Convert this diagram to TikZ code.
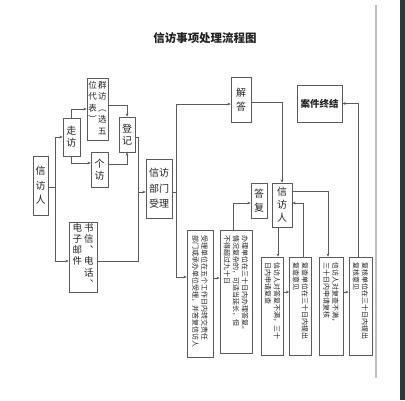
\documentclass[tikz,border=0pt]{standalone}
\usepackage{fontspec}
\setmainfont{Noto Sans CJK SC}
\usetikzlibrary{arrows.meta}
\definecolor{lnc}{RGB}{90,90,90}
\definecolor{txc}{RGB}{35,35,35}
\definecolor{band}{RGB}{45,58,58}
\tikzset{
 box/.style={draw=lnc, line width=0.7pt, inner sep=0pt, text=txc, align=center},
 arr/.style={draw=lnc, line width=0.7pt, -{Stealth[length=3.2pt,width=2.8pt]}},
 ln/.style={draw=lnc, line width=0.7pt},
 rt/.style={rotate=-90, font=\fontsize{7}{9}\selectfont, align=left, text=txc, inner sep=0pt},
 big/.style={font=\fontsize{10}{14}\selectfont},
}
\newcommand{\vc}[1]{\begin{tabular}[t]{@{}c@{}}#1\end{tabular}}
\begin{document}
\begin{tikzpicture}[x=1pt,y=-1pt]
\useasboundingbox (0,0) rectangle (405,400);
\fill[white] (0,0) rectangle (405,400);
\fill[band] (400,0) rectangle (405,400);
\draw[black!25, line width=1.5pt] (376,5) -- (376,378);

\node[font=\fontsize{11.5}{12}\selectfont\bfseries, text=txc] (title) at (205,38) {信访事项处理流程图};

% left part
\node[box, big, minimum width=15pt, minimum height=59pt, font=\fontsize{10}{14.5}\selectfont] (xfr) at (40.5,185.5) {信\\访\\人};
\node[box, minimum width=17pt, minimum height=38pt, font=\fontsize{10}{12}\selectfont] (zf) at (71.5,137) {走\\访};
\node[box, minimum width=21pt, minimum height=62pt, font=\fontsize{8.5}{11.5}\selectfont] (qf) at (97.5,109) {\vc{位\\代\\表\\︶}\hspace{1pt}\vc{群\\访\\︵\\选\\五}};
\node[box, minimum width=17pt, minimum height=35pt, font=\fontsize{10}{12}\selectfont] (gf) at (99.5,169.5) {个\\访};
\node[box, minimum width=16pt, minimum height=35pt, font=\fontsize{10}{12}\selectfont] (dj) at (127,134.5) {登\\记};
\node[box, minimum width=28pt, minimum height=70pt, font=\fontsize{9.5}{10.8}\selectfont] (sx) at (83,257) {\vc{电\\子\\邮\\件}\hspace{2pt}\vc{书\\信\\︑\\电\\话\\︑}};
\node[box, minimum width=26pt, minimum height=59pt, font=\fontsize{10}{15.5}\selectfont] (bm) at (159,188.5) {信访\\部门\\受理};

% upper right
\node[box, minimum width=20pt, minimum height=45pt, font=\fontsize{10}{14}\selectfont] (jd) at (241,99.5) {解\\答};
\node[box, minimum width=45pt, minimum height=37pt, font=\fontsize{9.5}{10}\selectfont\bfseries] (ajzj) at (319.5,103.5) {案件终结};
\node[box, minimum width=16pt, minimum height=35pt, font=\fontsize{10}{14}\selectfont] (df) at (259,200.5) {答\\复};
\node[box, minimum width=20pt, minimum height=44pt, font=\fontsize{10}{13}\selectfont] (xfr2) at (282,205) {信\\访\\人};

% bottom row
\node[box, minimum width=26pt, minimum height=127pt] (b1) at (200,294) {};
\node[rt, text width=117pt] at (b1.center) {受理单位在五个工作日内转交责任\\部门或承办单位受理，并答复信访人};
\node[box, minimum width=32pt, minimum height=123pt] (b2) at (236,291.5) {};
\node[rt, text width=113pt] at (b2.center) {办理单位在三十日内办理答复。\\情况复杂的，可适当延长，但\\不得超过九十日};
\node[box, minimum width=22pt, minimum height=98pt] (b3) at (272.5,306) {};
\node[rt, text width=88pt] at (b3.center) {信访人对答复不满，三十\\日内申请复查};
\node[box, minimum width=22pt, minimum height=98pt] (b4) at (300.5,306) {};
\node[rt, text width=88pt] at (b4.center) {复查单位在三十日内提出\\复查意见};
\node[box, minimum width=24pt, minimum height=98pt] (b5) at (331,306) {};
\node[rt, text width=88pt] at (b5.center) {信访人对复查不满，\\三十日内申请复核};
\node[box, minimum width=23pt, minimum height=98pt] (b6) at (360.5,306) {};
\node[rt, text width=88pt] at (b6.center) {复核单位在三十日内提出\\复核意见};

% junctions
\coordinate (j0) at (55,187);
\coordinate (j1) at (138,192);
\coordinate (j2) at (176,192);

% connectors left
\draw[ln] ([yshift=-1.5]xfr.east) -- (j0);
\draw[arr] (j0) |- (zf.west);
\draw[arr] (j0) |- ([yshift=-4]sx.west);
\draw[arr] (zf.north) |- (qf.west);
\draw[arr] (zf.south) |- ([yshift=6.5]gf.west);
\draw[arr] ([yshift=4]qf.east) -| (dj.north);
\draw[arr] ([yshift=5.5]gf.east) -| (dj.south);
\draw[ln] ([yshift=-2.5]dj.east) -| (j1);
\draw[ln] ([yshift=-4]sx.east) -| (j1);
\draw[arr] (j1) -- ([yshift=-3.5]bm.west);
\draw[ln] ([yshift=-3.5]bm.east) -- (j2);
\draw[arr] (j2) |- ([yshift=-4.5]jd.west);
\draw[arr] (j2) |- ([yshift=17]b1.west);

% connectors right
\draw[arr] ([yshift=-2.5]jd.east) -| (xfr2.north);
\draw[arr] ([xshift=-2.5]b6.north) |- (ajzj.east);
\draw[arr] ([yshift=14]xfr2.east) -| ([xshift=-3]b5.north);
\draw[arr] ([xshift=2.5]b4.north) |- ([yshift=2]xfr2.east);
\draw[arr] ([xshift=-4]xfr2.south) -- ([xshift=5.5]b3.north);
\draw[arr] ([xshift=-3]b2.north) |- ([yshift=-2.5]df.west);
\draw[arr] ([yshift=16]b1.east) -- ([yshift=13.5]b2.west);
\draw[arr] ([yshift=14]b3.east) -- ([yshift=14]b4.west);
\draw[arr] ([yshift=14]b5.east) -- ([yshift=14]b6.west);
\end{tikzpicture}
\end{document}
